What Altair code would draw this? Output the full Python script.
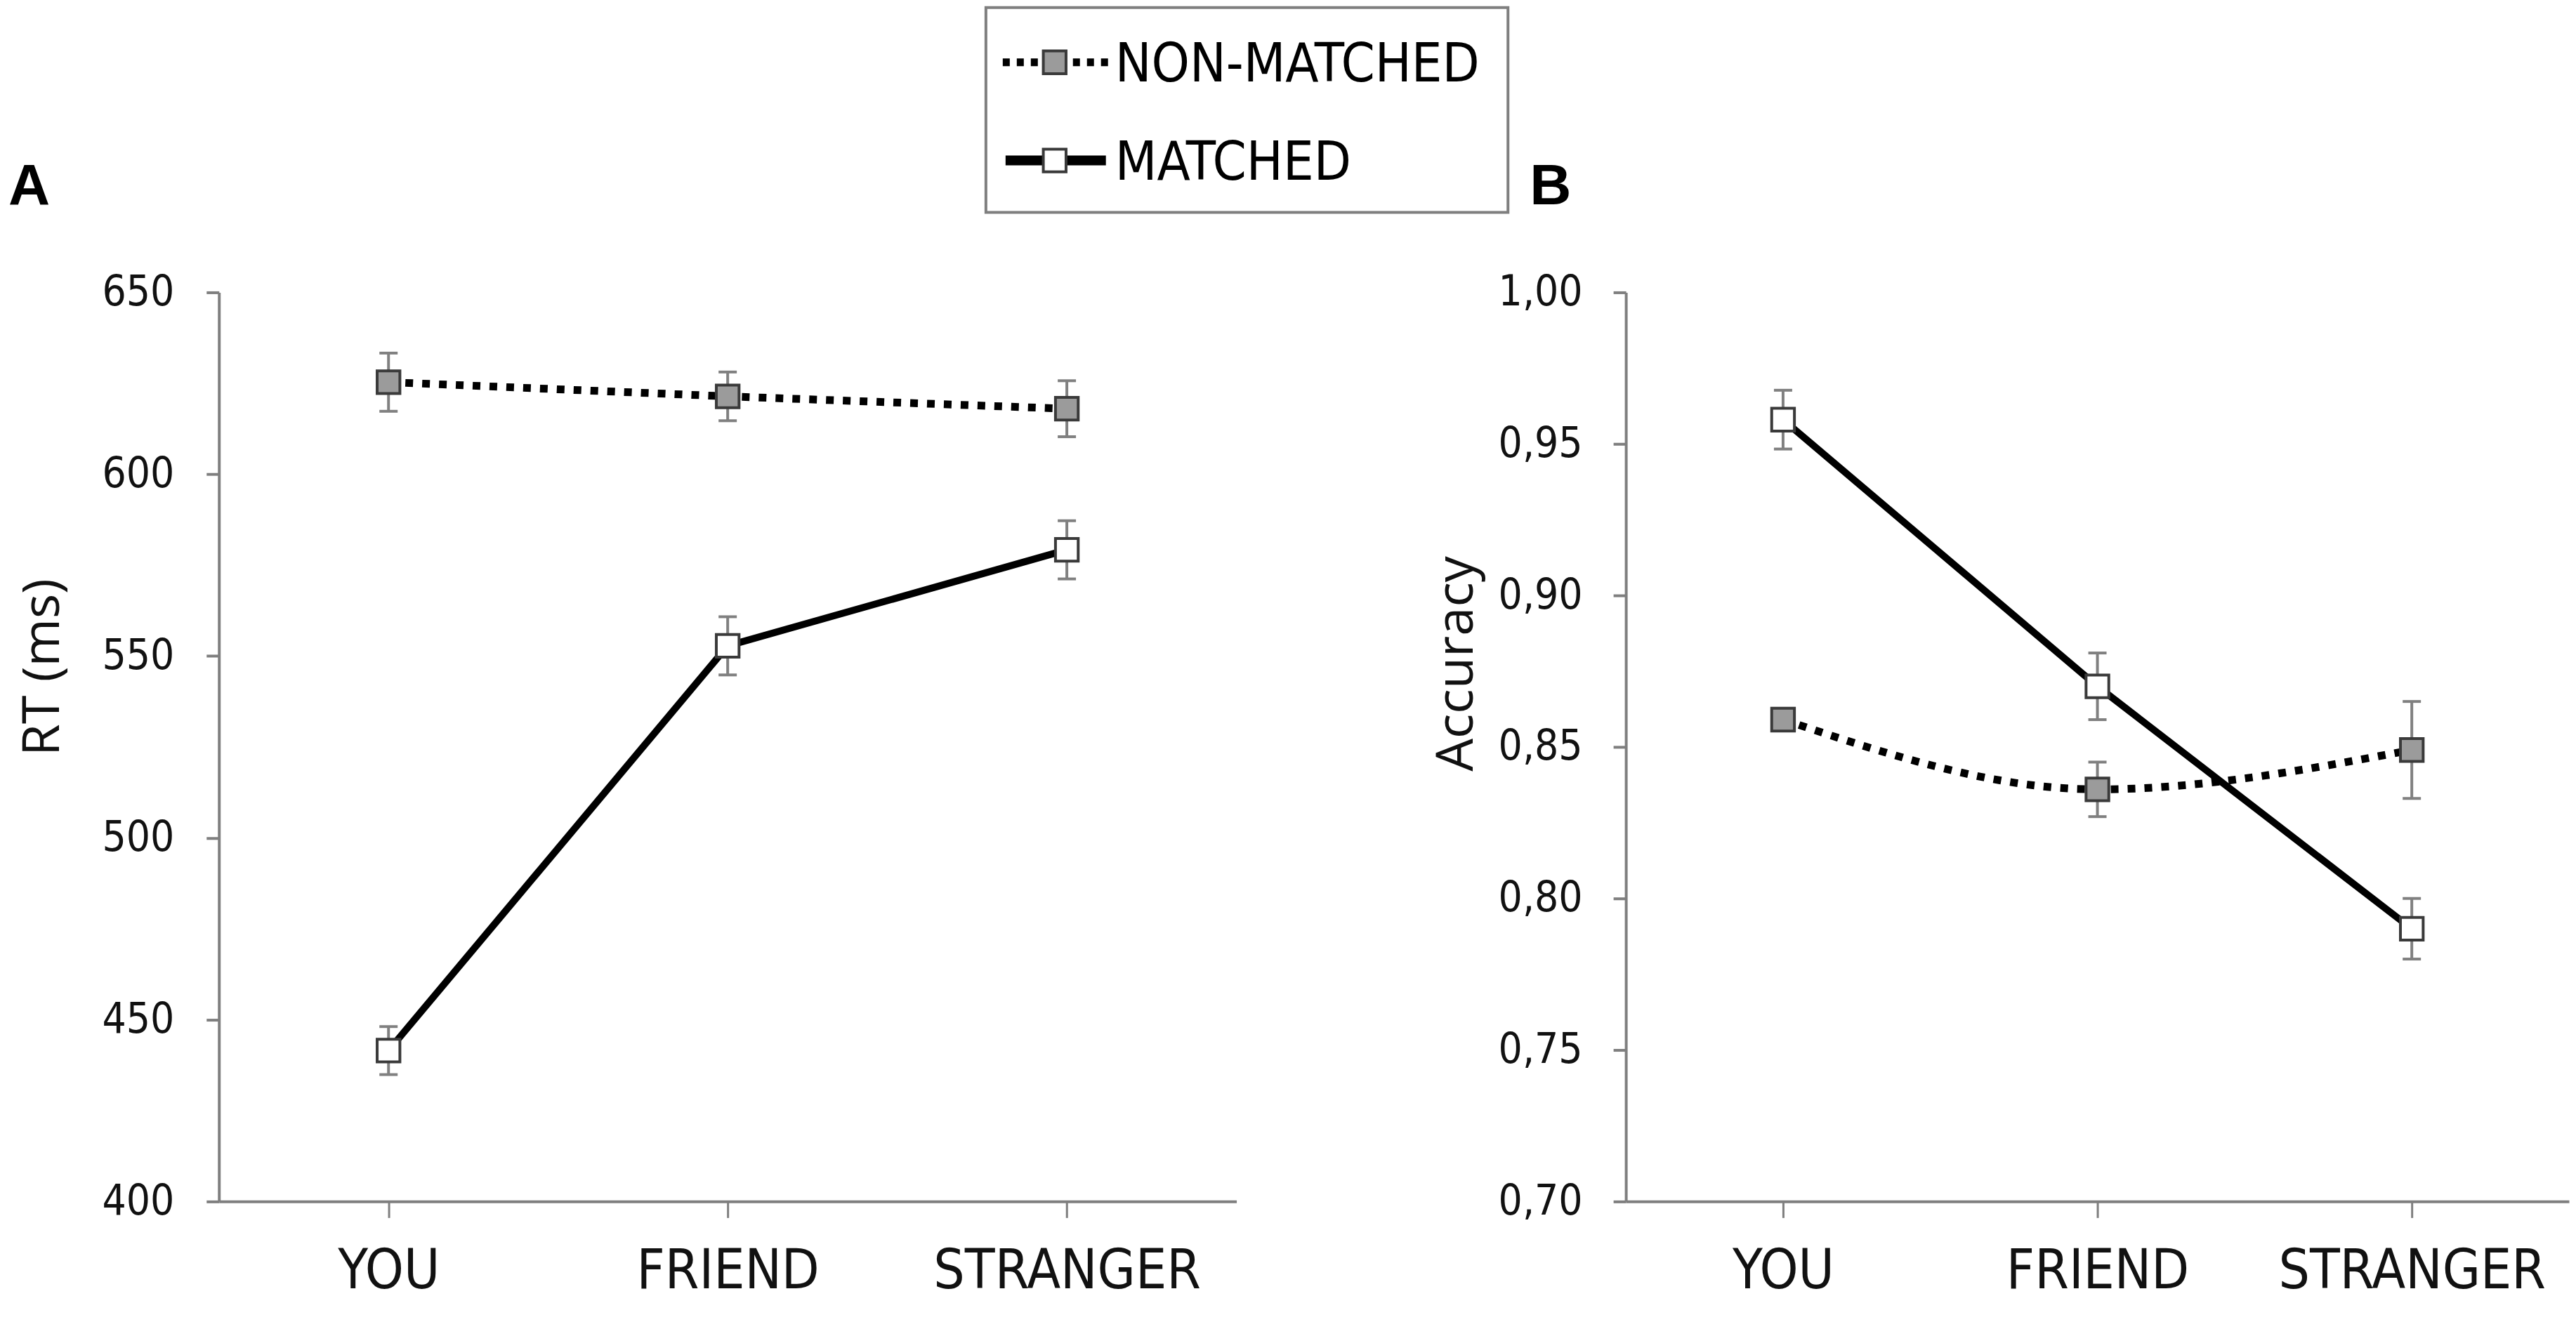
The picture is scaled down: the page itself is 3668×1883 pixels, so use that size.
import glob
import altair as alt
import pandas as pd

# ---------------- data ----------------
categories = ["YOU", "FRIEND", "STRANGER"]
series = ["NON-MATCHED", "MATCHED"]

rt_nonmatched = [625.3, 621.4, 618.0]
rt_nonmatched_se = [8.0, 6.7, 7.7]
rt_matched = [441.5, 552.8, 579.2]
rt_matched_se = [6.6, 8.0, 8.0]

acc_nonmatched = [0.859, 0.836, 0.849]
acc_nonmatched_se = [0.003, 0.009, 0.016]
acc_matched = [0.958, 0.870, 0.790]
acc_matched_se = [0.0097, 0.011, 0.010]

rt_ticks = [400, 450, 500, 550, 600, 650]
acc_ticks = [0.70, 0.75, 0.80, 0.85, 0.90, 0.95, 1.00]

# ---------------- fonts: pick the narrowest installed sans ----------------
font_files = []
for root in ["/usr/share/fonts", "/usr/local/share/fonts", "/root/.fonts",
             "/root/.local/share/fonts"]:
    font_files += glob.glob(root + "/**/*", recursive=True)
names = " ".join(f.lower() for f in font_files).replace("-", "").replace(" ", "")
if "liberationsansnarrow" in names:
    NARROW = "Liberation Sans Narrow"
    TICK_FS, XLAB_FS, LEG_FS = 63, 82, 84
elif "dejavusanscondensed" in names:
    NARROW = "DejaVu Sans Condensed"
    TICK_FS, XLAB_FS, LEG_FS = 60, 78, 77
else:
    NARROW = "Liberation Sans"
    TICK_FS, XLAB_FS, LEG_FS = 60, 74, 72

TITLEFONT = "Open Sans"
GRAY = "#7f7f7f"
ERRGRAY = "#808080"
MARKSTROKE = "#3a3a3a"
FILLS = ["#9b9b9b", "#ffffff"]
PLOT_H = 1296


def frame(nm, nm_se, m, m_se):
    rows = []
    for s, vals, ses in [(series[0], nm, nm_se), (series[1], m, m_se)]:
        for i, (c, v, e) in enumerate(zip(categories, vals, ses)):
            rows.append({"condition": c, "idx": i, "series": s,
                         "value": v, "lo": v - e, "hi": v + e})
    return pd.DataFrame(rows)


def panel(df, domain, ticks, title, title_x, title_y, width, height,
          label_pad, label_expr, interp_nm, letter, letter_x, letter_y):
    xenc = alt.X("condition:N", sort=categories,
                 scale=alt.Scale(type="point", padding=0.5),
                 axis=alt.Axis(title=None, labelAngle=0, labelFont=NARROW,
                               labelFontSize=XLAB_FS, labelColor="#111111",
                               labelPadding=38, labelBaseline="top",
                               labelLimit=0, labelOverlap=False,
                               tickSize=23, tickWidth=3, tickColor=GRAY,
                               domainColor=GRAY, domainWidth=4, grid=False))
    yaxis_kwargs = dict(values=ticks, title=title, titleFont=TITLEFONT,
                        titleFontSize=74, titleFontWeight="normal",
                        titleColor="#111111", titleX=title_x, titleY=title_y,
                        titleAngle=270, titleBaseline="alphabetic",
                        titleAlign="center", labelFont=NARROW,
                        labelFontSize=TICK_FS, labelColor="#111111",
                        labelPadding=label_pad, tickSize=18, tickWidth=4,
                        tickColor=GRAY, domainColor=GRAY, domainWidth=4,
                        grid=False, labelOverlap=False, labelFlush=False,
                        labelLimit=0)
    if label_expr:
        yaxis_kwargs["labelExpr"] = label_expr
    yscale = alt.Scale(domain=domain, nice=False, zero=False)

    def yenc(field):
        return alt.Y(field, scale=yscale, axis=alt.Axis(**yaxis_kwargs))

    base = alt.Chart(df)
    err = base.mark_rule(color=ERRGRAY, strokeWidth=4).encode(
        x=xenc, y=yenc("lo:Q"), y2="hi:Q")
    cap_lo = base.mark_tick(color=ERRGRAY, thickness=4, size=26,
                            orient="horizontal", opacity=1).encode(
        x=xenc, y=yenc("lo:Q"))
    cap_hi = base.mark_tick(color=ERRGRAY, thickness=4, size=26,
                            orient="horizontal", opacity=1).encode(
        x=xenc, y=yenc("hi:Q"))
    line_nm = base.transform_filter(alt.datum.series == series[0]).mark_line(
        color="black", strokeWidth=11, strokeDash=[11, 13], strokeCap="butt",
        interpolate=interp_nm).encode(x=xenc, y=yenc("value:Q"),
                                      order="idx:Q")
    line_m = base.transform_filter(alt.datum.series == series[1]).mark_line(
        color="black", strokeWidth=10).encode(x=xenc, y=yenc("value:Q"),
                                              order="idx:Q")
    pts = base.mark_point(shape="square", filled=True, size=1050,
                          stroke=MARKSTROKE, strokeWidth=4, opacity=1).encode(
        x=xenc, y=yenc("value:Q"),
        fill=alt.Fill("series:N", scale=alt.Scale(domain=series, range=FILLS),
                      legend=None))
    lab = alt.Chart(pd.DataFrame({"t": [letter]})).mark_text(
        font="Liberation Sans", fontWeight="bold", fontSize=82, align="left",
        baseline="alphabetic", color="black").encode(
        x=alt.value(letter_x), y=alt.value(letter_y), text="t:N")
    return [err, cap_lo, cap_hi, line_nm, line_m, pts, lab], width, height


df_rt = frame(rt_nonmatched, rt_nonmatched_se, rt_matched, rt_matched_se)
df_acc = frame(acc_nonmatched, acc_nonmatched_se, acc_matched, acc_matched_se)

layers_a, wa, ha = panel(df_rt, [400, 650], rt_ticks, "RT (ms)", -228, 534,
                         1450, PLOT_H, 46, None, "linear", "A", -300, -126)
layers_b, wb, hb = panel(df_acc, [0.70, 1.00], acc_ticks, "Accuracy", -219, 529,
                         1344, PLOT_H, 44,
                         "replace(format(datum.value, '.2f'), '.', ',')",
                         "monotone", "B", -137, -126)

# ---------------- custom legend (drawn in panel A's coordinate frame) ----------------
leg_nm = pd.DataFrame({"series": [series[0]]})
leg_m = pd.DataFrame({"series": [series[1]]})
box = alt.Chart(leg_nm).mark_rect(fill="white", stroke=GRAY, strokeWidth=4).encode(
    x=alt.value(1093), x2=alt.value(1837), y=alt.value(-406), y2=alt.value(-114))
l1 = alt.Chart(leg_nm).mark_rule(color="black", strokeWidth=11,
                                 strokeDash=[10, 10], strokeCap="butt").encode(
    x=alt.value(1117), x2=alt.value(1268), y=alt.value(-328))
p1 = alt.Chart(leg_nm).mark_point(shape="square", filled=True, size=1050,
                                  fill=FILLS[0], stroke=MARKSTROKE,
                                  strokeWidth=4, opacity=1).encode(
    x=alt.value(1191), y=alt.value(-328))
t1 = alt.Chart(leg_nm).mark_text(font=NARROW, fontSize=LEG_FS, align="left",
                                 baseline="middle", color="black").encode(
    x=alt.value(1277), y=alt.value(-324), text="series:N")
l2 = alt.Chart(leg_m).mark_rule(color="black", strokeWidth=14).encode(
    x=alt.value(1121), x2=alt.value(1264), y=alt.value(-188))
p2 = alt.Chart(leg_m).mark_point(shape="square", filled=True, size=1050,
                                 fill=FILLS[1], stroke=MARKSTROKE,
                                 strokeWidth=4, opacity=1).encode(
    x=alt.value(1191), y=alt.value(-188))
t2 = alt.Chart(leg_m).mark_text(font=NARROW, fontSize=LEG_FS, align="left",
                                baseline="middle", color="black").encode(
    x=alt.value(1277), y=alt.value(-184), text="series:N")

panel_a = alt.layer(*layers_a, box, l1, p1, t1, l2, p2, t2).properties(
    width=wa, height=ha)
panel_b = alt.layer(*layers_b).properties(width=wb, height=hb)

chart = alt.hconcat(panel_a, panel_b, spacing=555, bounds="flush").properties(
    padding={"left": 4, "top": 0, "right": 2, "bottom": 12},
    background="white",
).configure_view(stroke=None)

chart.save("out.html", embed_options={"renderer": "svg", "actions": False})
